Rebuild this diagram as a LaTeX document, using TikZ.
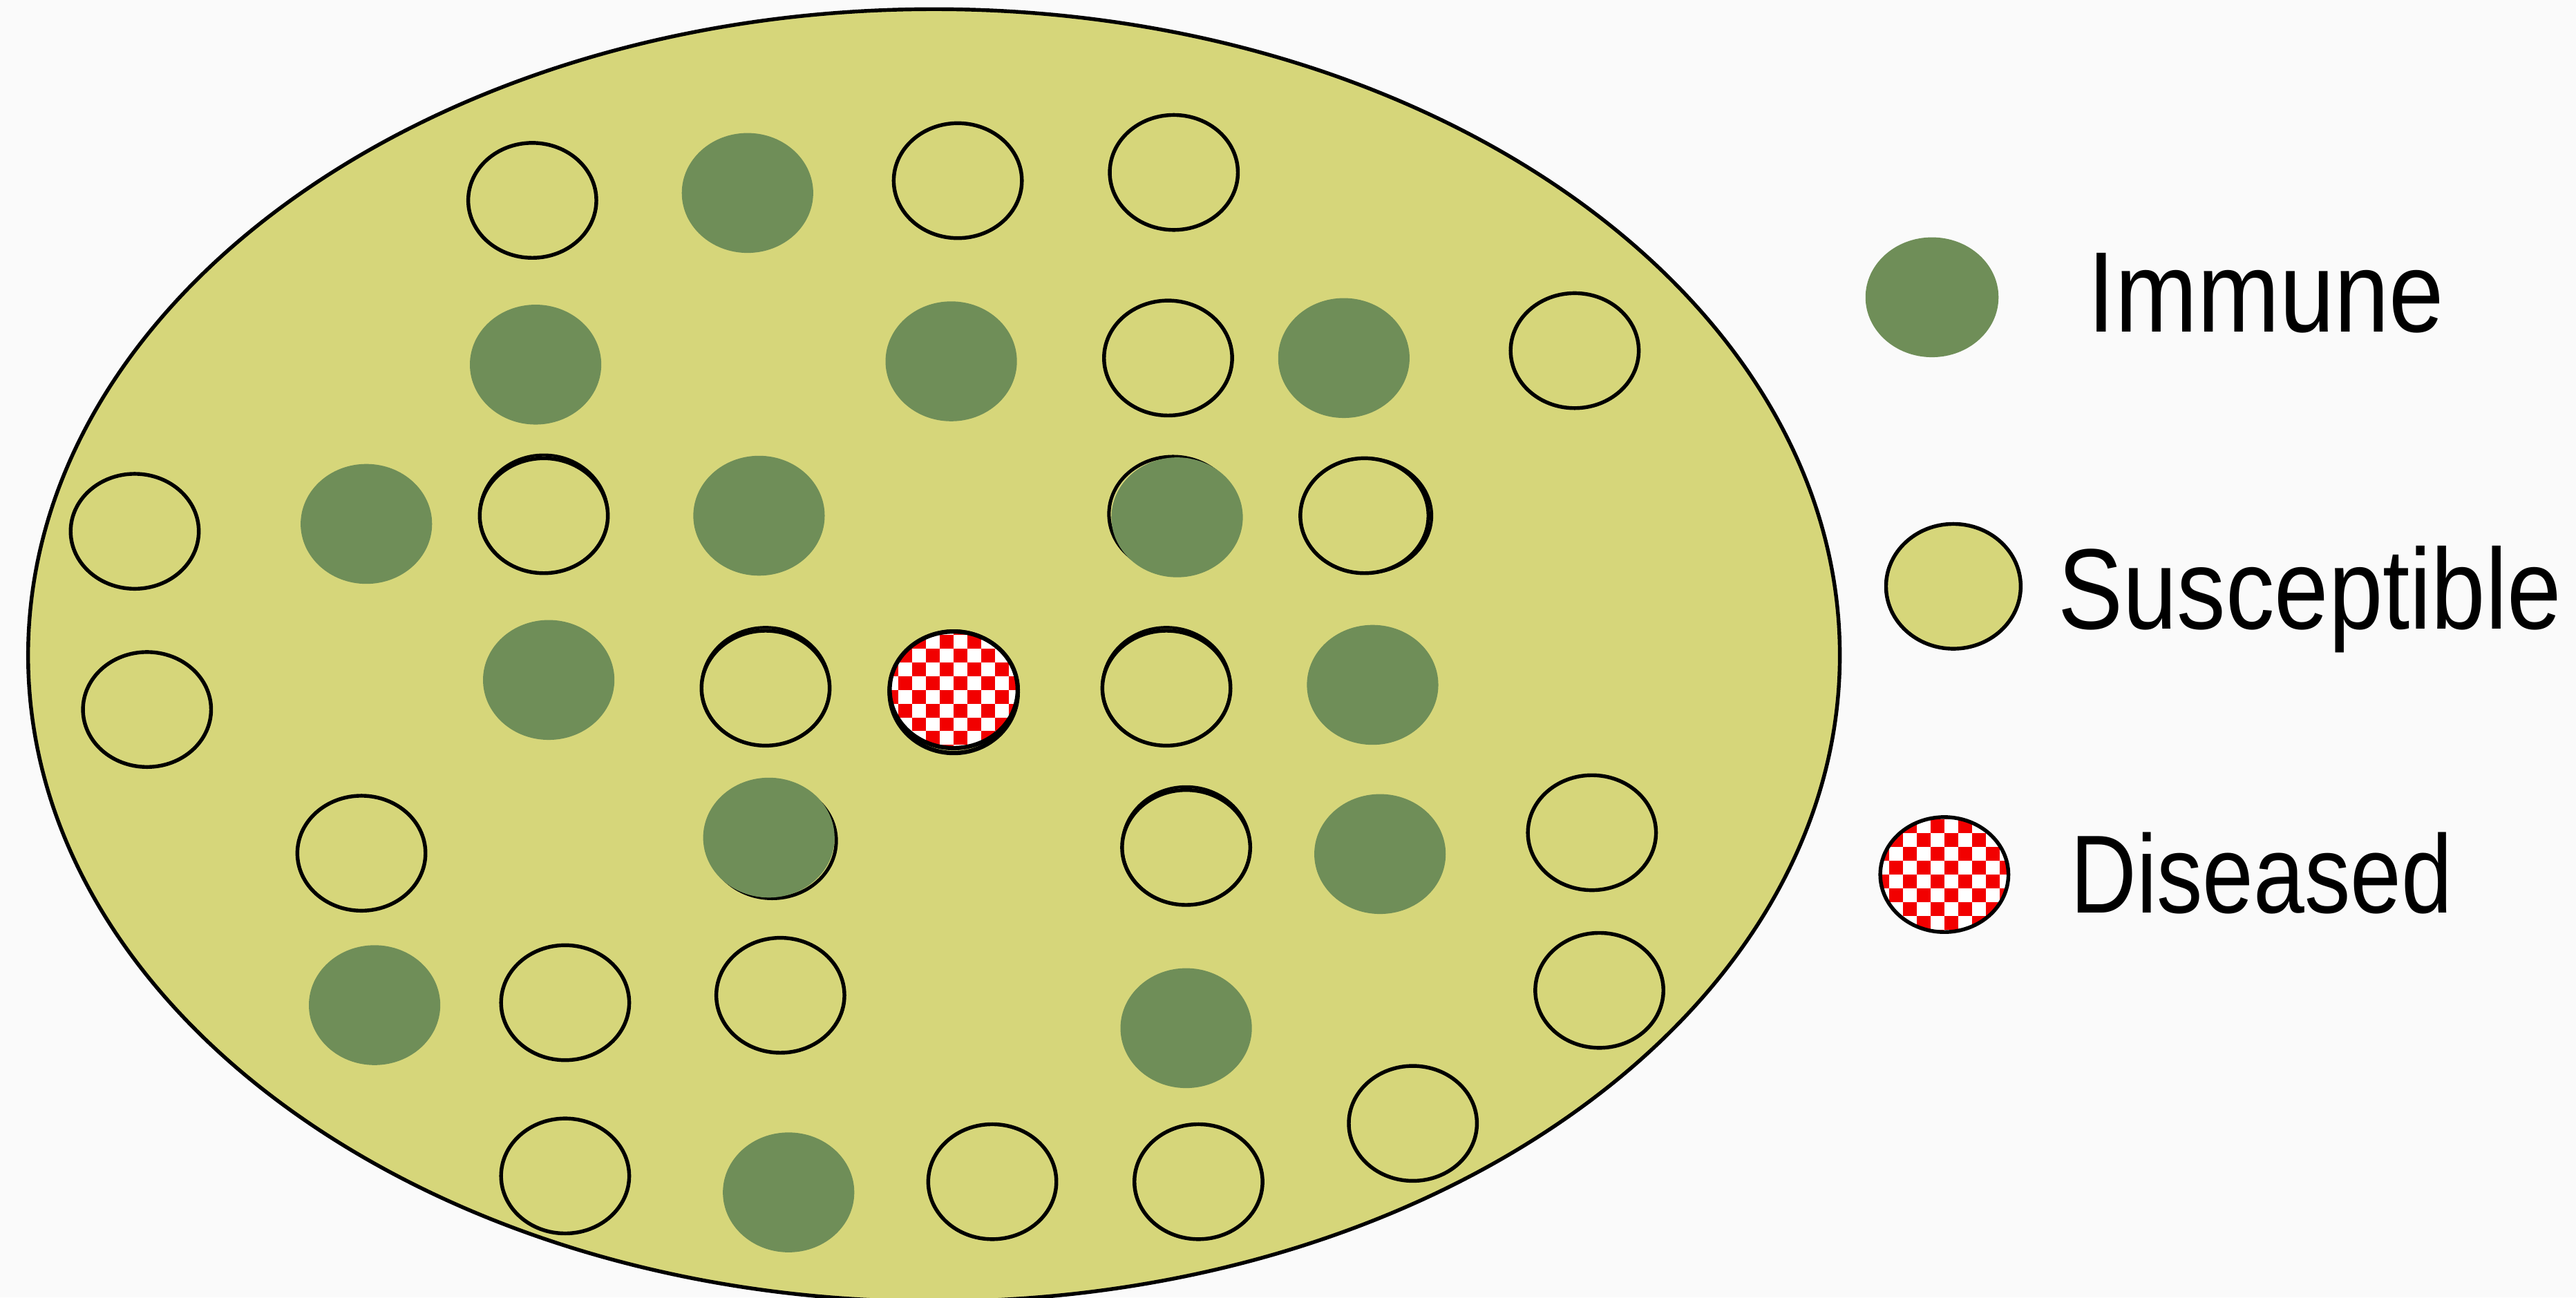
\documentclass[tikz,border=0pt]{standalone}
\usepackage{fontspec}
\setmainfont{Liberation Sans}
\usepackage{graphicx}
\usetikzlibrary{shapes.geometric,calc}
\definecolor{bgc}{RGB}{250,250,250}
\definecolor{popc}{RGB}{214,214,122}
\definecolor{immc}{RGB}{111,142,88}
\definecolor{disred}{RGB}{242,0,0}
\tikzset{
  population/.style={ellipse, draw=black, line width=1.3pt, fill=popc, inner sep=0pt,
    minimum width=22.06cm, minimum height=15.74cm},
  immune/.style={ellipse, fill=immc, draw=none, inner sep=0pt,
    minimum width=1.60cm, minimum height=1.46cm},
  susc/.style={ellipse, fill=popc, draw=black, line width=1.3pt, inner sep=0pt,
    minimum width=1.56cm, minimum height=1.40cm},
  ghost/.style={draw=black, line width=1.2pt},
  checker/.style={path picture={
    \foreach \i in {-6,...,5}{\foreach \j in {-6,...,5}{
      \pgfmathtruncatemacro\kk{mod(\i+\j+20,2)}
      \ifnum\kk=0
        \fill[disred] ($(path picture bounding box.center)+(\i*0.168cm,\j*0.168cm)$) rectangle ++(0.168cm,0.168cm);
      \fi}}}},
  diseased/.style={ellipse, fill=white, draw=black, line width=1.5pt, inner sep=0pt,
    minimum width=1.56cm, minimum height=1.42cm, checker},
  legtext/.style={anchor=base west, inner sep=0pt, font=\fontsize{39.7}{47}\selectfont}
}
\begin{document}
\begin{tikzpicture}[x=0.02cm,y=-0.02cm]
\fill[bgc] (0,0) rectangle (1568,790);
\useasboundingbox (0,0) rectangle (1568,790);

\node[population] (pop) at (568.5,399) {};

% faint outlines under two immune discs
\draw[ghost] (714,313) ellipse [x radius=0.78cm, y radius=0.70cm];
\draw[ghost] (470,512) ellipse [x radius=0.78cm, y radius=0.70cm];

% immune
\foreach \n/\x/\y in {i1/455/117.5, i2/326/222, i3/579/220, i4/818/218, i5/223/319,
  i6/462/314, i7/716.5/315, i8/334/414, i9/835.5/417, i10/468/510, i11/840/520,
  i12/228/612, i13/722/626, i14/480/726}
  \node[immune] (\n) at (\x,\y) {};

% susceptible
\foreach \n/\x/\y in {s1/324/122, s2/583/110, s3/714.5/105, s4/711/218, s5/958.5/213.5,
  s6/82/323.5, s7/331/314, s8/830.5/314, s9/89.5/432, s10/466/419, s11/710/419,
  s12/220/519.5, s13/722/516, s14/969/507, s15/344/610.5, s16/475/606, s17/973.5/603,
  s18/344/716, s19/604/719.5, s20/729.5/719.5, s21/860/684}
  \node[susc] (\n) at (\x,\y) {};

% slightly doubled strokes
\draw[line width=1pt] ($(s7.center)+(0,-1)$) ellipse [x radius=0.78cm, y radius=0.72cm];
\draw[line width=1pt] ($(s10.center)+(0,-1)$) ellipse [x radius=0.78cm, y radius=0.72cm];
\draw[line width=1pt] ($(s11.center)+(0,-1)$) ellipse [x radius=0.78cm, y radius=0.72cm];
\draw[line width=1pt] ($(s13.center)+(0,-1)$) ellipse [x radius=0.78cm, y radius=0.72cm];
\draw[line width=1pt] ($(s8.center)+(1,0)$) ellipse [x radius=0.80cm, y radius=0.70cm];

% diseased
\draw[line width=1.5pt] (580.5,421.5) ellipse [x radius=0.78cm, y radius=0.74cm];
\node[diseased] (d) at (580.5,420) {};

% legend
\node[immune, minimum width=1.62cm, minimum height=1.46cm] (limm) at (1176,181) {};
\node[susc, minimum width=1.64cm, minimum height=1.52cm] (lsus) at (1189,357) {};
\node[diseased, line width=1.3pt, minimum width=1.56cm, minimum height=1.40cm] (ldis) at (1183.5,532.5) {};

\node[legtext] (timm) at (1270.6,202) {\scalebox{0.86}[1]{Immune}};
\node[legtext] (tsus) at (1252.3,383) {\scalebox{0.85}[1]{Susceptible}};
\node[legtext] (tdis) at (1259.9,556) {\scalebox{0.80}[0.97]{Diseased}};
\end{tikzpicture}
\end{document}
